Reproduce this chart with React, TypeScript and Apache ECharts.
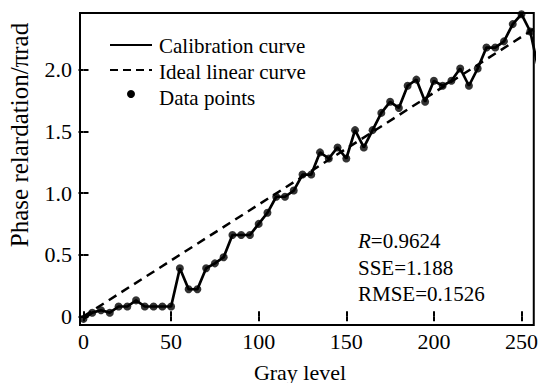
import React, { useEffect, useRef } from "react";
import * as echarts from "echarts";

const grayLevels = [
  0, 5, 10, 15, 20, 25, 30, 35, 40, 45, 50, 55, 60, 65, 70, 75, 80, 85, 90, 95,
  100, 105, 110, 115, 120, 125, 130, 135, 140, 145, 150, 155, 160, 165, 170,
  175, 180, 185, 190, 195, 200, 205, 210, 215, 220, 225, 230, 235, 240, 245,
  250, 255, 260,
];
const phaseValues = [
  -0.02, 0.03, 0.05, 0.03, 0.08, 0.08, 0.13, 0.08, 0.08, 0.08, 0.08, 0.39,
  0.22, 0.22, 0.39, 0.43, 0.48, 0.66, 0.66, 0.66, 0.75, 0.84, 0.97, 0.97, 1.02,
  1.15, 1.15, 1.33, 1.28, 1.37, 1.28, 1.51, 1.37, 1.51, 1.65, 1.74, 1.69, 1.87,
  1.92, 1.74, 1.91, 1.87, 1.91, 2.01, 1.87, 2.01, 2.18, 2.18, 2.23, 2.37, 2.45,
  2.31, 1.98,
];
const idealX = [0, 257];
const idealY = [0, 2.33];
const xTicks = [0, 50, 100, 150, 200, 250];
const yTicks = [0, 0.5, 1.0, 1.5, 2.0];
const statsLines = ["{i|R}=0.9624", "SSE=1.188", "RMSE=0.1526"];
const legendNames = ["Calibration curve", "Ideal linear curve", "Data points"];

const FONT = "Liberation Serif";

export default function App() {
  const ref = useRef<HTMLDivElement>(null);
  useEffect(() => {
    if (!ref.current) return;
    const chart = echarts.init(ref.current, null, { renderer: "svg" });
    const curve = grayLevels.map((x, i) => [x, phaseValues[i]]);
    const ideal = idealX.map((x, i) => [x, idealY[i]]);
    const yFmt = (v: number) => (v === 0 ? "0" : v.toFixed(1));
    const baseX = {
      type: "value",
      min: -2,
      max: 257,
      splitLine: { show: false },
      axisLine: { show: false },
    };
    const baseY = {
      type: "value",
      min: -0.07,
      max: 2.46,
      splitLine: { show: false },
      axisLine: { show: false },
    };
    const tick = (vals: number[]) => ({
      show: true,
      inside: true,
      length: 5,
      customValues: vals,
      lineStyle: { color: "#000", width: 2 },
    });
    chart.setOption({
      animation: false,
      backgroundColor: "#fff",
      grid: {
        left: 80,
        top: 13,
        width: 457,
        height: 312,
        show: true,
        borderColor: "#000",
        borderWidth: 2,
        backgroundColor: "transparent",
      },
      xAxis: [
        {
          ...baseX,
          position: "bottom",
          axisTick: tick(xTicks),
          axisLabel: {
            customValues: xTicks,
            margin: 5,
            color: "#000",
            fontFamily: FONT,
            fontSize: 22,
          },
        },
        {
          ...baseX,
          position: "top",
          axisTick: tick(xTicks),
          axisLabel: { show: false },
        },
      ],
      yAxis: [
        {
          ...baseY,
          position: "left",
          axisTick: tick(yTicks),
          axisLabel: {
            customValues: yTicks,
            formatter: yFmt,
            margin: 8,
            color: "#000",
            fontFamily: FONT,
            fontSize: 22,
          },
        },
        {
          ...baseY,
          position: "right",
          axisTick: tick(yTicks),
          axisLabel: { show: false },
        },
      ],
      series: [
        {
          name: legendNames[1],
          type: "line",
          data: ideal,
          symbol: "none",
          lineStyle: { color: "#000", width: 2.5, type: [9, 6] },
          clip: true,
          z: 2,
        },
        {
          name: legendNames[0],
          type: "line",
          data: curve,
          symbol: "none",
          lineStyle: { color: "#000", width: 2.7 },
          clip: true,
          z: 3,
        },
        {
          name: legendNames[2],
          type: "scatter",
          data: curve.filter((p) => p[0] <= 257),
          symbol: "circle",
          symbolSize: 8,
          itemStyle: { color: "#000" },
          z: 4,
        },
      ],
      graphic: [
        {
          type: "line",
          shape: { x1: 110, y1: 45, x2: 152, y2: 45 },
          style: { stroke: "#000", lineWidth: 2 },
        },
        {
          type: "line",
          shape: { x1: 110, y1: 70, x2: 152, y2: 70 },
          style: { stroke: "#000", lineWidth: 2, lineDash: [8, 5] },
        },
        {
          type: "circle",
          shape: { cx: 131, cy: 94, r: 4 },
          style: { fill: "#000" },
        },
        ...legendNames.map((name, i) => ({
          type: "text",
          x: 159,
          y: 46 + i * 26,
          style: {
            text: name,
            fill: "#000",
            font: `21px "${FONT}"`,
            textAlign: "left",
            textVerticalAlign: "middle",
          },
        })),
        ...statsLines.map((s, i) => ({
          type: "text",
          x: 358,
          y: 241 + i * 26.5,
          style: {
            text: s,
            fill: "#000",
            fontFamily: FONT,
            fontSize: 21,
            textAlign: "left",
            textVerticalAlign: "middle",
            rich: {
              i: { fontStyle: "italic", fontFamily: FONT, fontSize: 21, fill: "#000" },
            },
          },
        })),
        {
          type: "text",
          x: 300,
          y: 372,
          style: {
            text: "Gray level",
            fill: "#000",
            font: `22px "${FONT}"`,
            textAlign: "center",
            textVerticalAlign: "middle",
          },
        },
        {
          type: "text",
          x: 19,
          y: 135,
          rotation: Math.PI / 2,
          style: {
            text: "Phase relardation/\u03c0rad",
            fill: "#000",
            font: `25px "${FONT}"`,
            textAlign: "center",
            textVerticalAlign: "middle",
          },
        },
      ],
    });
    return () => chart.dispose();
  }, []);
  return (
    <div
      ref={ref}
      style={{ position: "fixed", left: 0, top: 0, width: 541, height: 383, background: "#fff" }}
    />
  );
}
